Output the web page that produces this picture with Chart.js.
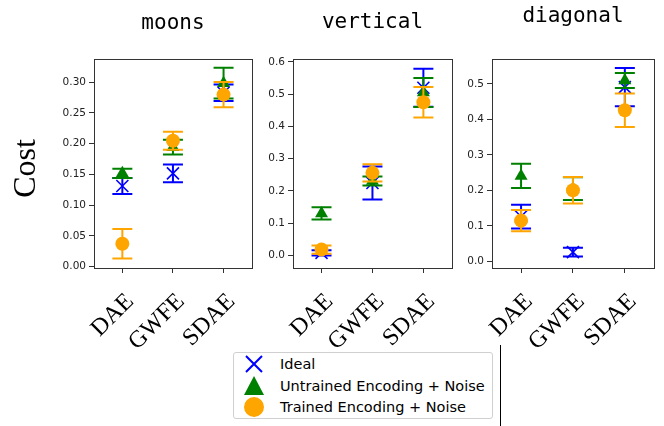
<!DOCTYPE html>
<html>
<head>
<meta charset="utf-8">
<script src="https://cdn.jsdelivr.net/npm/chart.js@4.4.1/dist/chart.umd.min.js"></script>
<style>
  html, body { margin: 0; padding: 0; background: #fff; }
  body { width: 664px; height: 426px; position: relative; overflow: hidden; }
  canvas.panel { position: absolute; top: 0; }
  #legend {
    position: absolute; left: 233px; top: 352px; width: 258px; height: 65px;
    border: 1px solid #d0d0d0; border-radius: 3px; background: #fff;
    font-family: "DejaVu Sans", sans-serif; font-size: 14.5px; color: #000;
  }
  #legend .row { position: absolute; left: 0; height: 22px; line-height: 22px; }
  #legend svg { position: absolute; left: 9px; top: 0; }
  #legend span { position: absolute; left: 46px; top: 0; white-space: nowrap; }
  #stray { position: absolute; left: 500px; top: 345px; width: 1px; height: 81px; background: #000; }
</style>
</head>
<body>
<div id="legend"></div>
<div id="stray"></div>
<script>
const methods = ['DAE', 'GWFE', 'SDAE']
const seriesNames = ['Ideal', 'Untrained Encoding + Noise', 'Trained Encoding + Noise']
const seriesColors = ['#0000ff', '#008000', '#ffa500']

// moons
const moonsIdeal = [0.131, 0.1515, 0.2825]
const moonsIdealErr = [0.013, 0.0145, 0.0135]
const moonsUntrained = [0.1515, 0.194, 0.298]
const moonsUntrainedErr = [0.0075, 0.012, 0.025]
const moonsTrained = [0.037, 0.2045, 0.2795]
const moonsTrainedErr = [0.024, 0.0145, 0.0205]
const moonsTicks = [0, 0.05, 0.1, 0.15, 0.2, 0.25, 0.3]

// vertical
const verticalIdeal = [0.008, 0.2245, 0.52]
const verticalIdealErr = [0.008, 0.0515, 0.059]
const verticalUntrained = [0.13, 0.231, 0.505]
const verticalUntrainedErr = [0.019, 0.014, 0.045]
const verticalTrained = [0.018, 0.256, 0.475]
const verticalTrainedErr = [0.0125, 0.027, 0.047]
const verticalTicks = [0, 0.1, 0.2, 0.3, 0.4, 0.5, 0.6]

// diagonal
const diagonalIdeal = [0.1265, 0.026, 0.491]
const diagonalIdealErr = [0.0335, 0.0125, 0.054]
const diagonalUntrained = [0.241, 0.205, 0.51]
const diagonalUntrainedErr = [0.034, 0.032, 0.021]
const diagonalTrained = [0.115, 0.2005, 0.426]
const diagonalTrainedErr = [0.03, 0.0375, 0.047]
const diagonalTicks = [0, 0.1, 0.2, 0.3, 0.4, 0.5]

const CANVAS_H = 426
const PLOT_TOP = 59
const X_AXIS_H = 158
const CAP_HALF = 10

const panels = [
  {
    name: 'moons', left: 0, width: 262, axisWidth: 94, padRight: 4, titleY: 29,
    yMin: -0.0023, yMax: 0.3374, digits: 2, ticks: moonsTicks, yTitle: 'Cost',
    values: [moonsIdeal, moonsUntrained, moonsTrained],
    errors: [moonsIdealErr, moonsUntrainedErr, moonsTrainedErr],
  },
  {
    name: 'vertical', left: 253, width: 209, axisWidth: 40, padRight: 4, titleY: 28,
    yMin: -0.039, yMax: 0.609, digits: 1, ticks: verticalTicks, yTitle: '',
    values: [verticalIdeal, verticalUntrained, verticalTrained],
    errors: [verticalIdealErr, verticalUntrainedErr, verticalTrainedErr],
  },
  {
    name: 'diagonal', left: 452, width: 212, axisWidth: 40, padRight: 6, titleY: 22,
    yMin: -0.0186, yMax: 0.5704, digits: 1, ticks: diagonalTicks, yTitle: '',
    values: [diagonalIdeal, diagonalUntrained, diagonalTrained],
    errors: [diagonalIdealErr, diagonalUntrainedErr, diagonalTrainedErr],
  },
]

const pointStyles = [
  { pointStyle: 'crossRot', pointRadius: 8.5, borderWidth: 1.6 },
  { pointStyle: 'triangle', pointRadius: 7.5, borderWidth: 0 },
  { pointStyle: 'circle', pointRadius: 7, borderWidth: 0 },
]

// vertical error bars with caps, drawn right before each dataset's markers
const errorBars = {
  id: 'errorBars',
  beforeDatasetDraw(chart, args) {
    const ds = chart.data.datasets[args.index]
    const yScale = chart.scales.y
    const ctx = chart.ctx
    ctx.save()
    ctx.strokeStyle = ds.borderColor
    ctx.lineWidth = 2
    args.meta.data.forEach((pt, i) => {
      const v = ds.data[i].y
      const e = ds.errors[i]
      const top = yScale.getPixelForValue(v + e)
      const bot = yScale.getPixelForValue(v - e)
      ctx.beginPath()
      ctx.moveTo(pt.x, top)
      ctx.lineTo(pt.x, bot)
      ctx.moveTo(pt.x - CAP_HALF, top)
      ctx.lineTo(pt.x + CAP_HALF, top)
      ctx.moveTo(pt.x - CAP_HALF, bot)
      ctx.lineTo(pt.x + CAP_HALF, bot)
      ctx.stroke()
    })
    ctx.restore()
  },
}

// box around the plot area, panel title, y title and rotated category labels
const frameAndLabels = {
  id: 'frameAndLabels',
  afterDraw(chart, args, opts) {
    const { ctx, chartArea } = chart
    const xs = chart.scales.x
    const midX = (chartArea.left + chartArea.right) / 2
    ctx.save()
    ctx.strokeStyle = '#333'
    ctx.lineWidth = 1
    ctx.strokeRect(Math.round(chartArea.left) + 0.5, Math.round(chartArea.top) + 0.5,
      Math.round(chartArea.right - chartArea.left), Math.round(chartArea.bottom - chartArea.top))

    ctx.fillStyle = '#000'
    ctx.textAlign = 'center'
    ctx.textBaseline = 'alphabetic'
    ctx.font = '21px "DejaVu Sans Mono", monospace'
    ctx.fillText(opts.title, midX, opts.titleY)

    if (opts.yTitle) {
      ctx.save()
      ctx.font = '32px "Liberation Serif", "DejaVu Serif", serif'
      ctx.translate(35, (chartArea.top + chartArea.bottom) / 2 + 5)
      ctx.rotate(-Math.PI / 2)
      ctx.fillText(opts.yTitle, 0, 0)
      ctx.restore()
    }

    ctx.font = '24px "Liberation Serif", "DejaVu Serif", serif'
    ctx.textAlign = 'right'
    methods.forEach((m, i) => {
      ctx.save()
      ctx.translate(xs.getPixelForValue(i) + 1, chartArea.bottom + 23)
      ctx.rotate(-Math.PI / 4)
      ctx.fillText(m, 0, 16)
      ctx.restore()
    })
    ctx.restore()
  },
}

const makePanel = (p) => {
  const canvas = document.createElement('canvas')
  canvas.className = 'panel'
  canvas.width = p.width
  canvas.height = CANVAS_H
  canvas.style.left = p.left + 'px'
  document.body.appendChild(canvas)

  const datasets = seriesNames.map((label, s) => ({
    label,
    data: p.values[s].map((y, i) => ({ x: i, y })),
    errors: p.errors[s],
    backgroundColor: seriesColors[s],
    borderColor: seriesColors[s],
    order: 2 - s,
    ...pointStyles[s],
  }))

  return new Chart(canvas.getContext('2d'), {
    type: 'scatter',
    data: { datasets },
    plugins: [errorBars, frameAndLabels],
    options: {
      responsive: false,
      animation: false,
      events: [],
      layout: { padding: { left: 0, right: p.padRight, top: PLOT_TOP, bottom: 0 } },
      plugins: {
        legend: { display: false },
        tooltip: { enabled: false },
        frameAndLabels: { title: p.name, titleY: p.titleY, yTitle: p.yTitle },
      },
      scales: {
        x: {
          type: 'linear',
          min: -0.56,
          max: 2.56,
          border: { display: false },
          grid: { drawOnChartArea: false, drawTicks: true, tickLength: 5, color: '#333' },
          ticks: { display: false },
          afterBuildTicks: (scale) => { scale.ticks = methods.map((m, i) => ({ value: i })) },
          afterFit: (scale) => { scale.height = X_AXIS_H },
        },
        y: {
          type: 'linear',
          min: p.yMin,
          max: p.yMax,
          border: { display: false },
          grid: { drawOnChartArea: false, drawTicks: true, tickLength: 5, color: '#333' },
          ticks: {
            color: '#222',
            padding: 3,
            font: { family: '"DejaVu Sans", sans-serif', size: 10.5 },
            callback: (v) => Number(v).toFixed(p.digits),
          },
          afterBuildTicks: (scale) => { scale.ticks = p.ticks.map((v) => ({ value: v })) },
          afterFit: (scale) => { scale.width = p.axisWidth },
        },
      },
    },
  })
}

panels.forEach(makePanel)

// legend
const markerSvg = [
  '<svg width="22" height="22"><path d="M3 3 L19 19 M19 3 L3 19" stroke="#0000ff" stroke-width="2"/></svg>',
  '<svg width="22" height="22"><path d="M11 1 L21 20 L1 20 Z" fill="#008000"/></svg>',
  '<svg width="22" height="22"><circle cx="11" cy="11" r="10" fill="#ffa500"/></svg>',
]
const legendEl = document.getElementById('legend')
const rowTops = [0, 22, 43]
seriesNames.forEach((name, s) => {
  const row = document.createElement('div')
  row.className = 'row'
  row.style.top = rowTops[s] + 'px'
  row.innerHTML = markerSvg[s] + '<span></span>'
  row.querySelector('span').textContent = name
  legendEl.appendChild(row)
})
</script>
</body>
</html>
